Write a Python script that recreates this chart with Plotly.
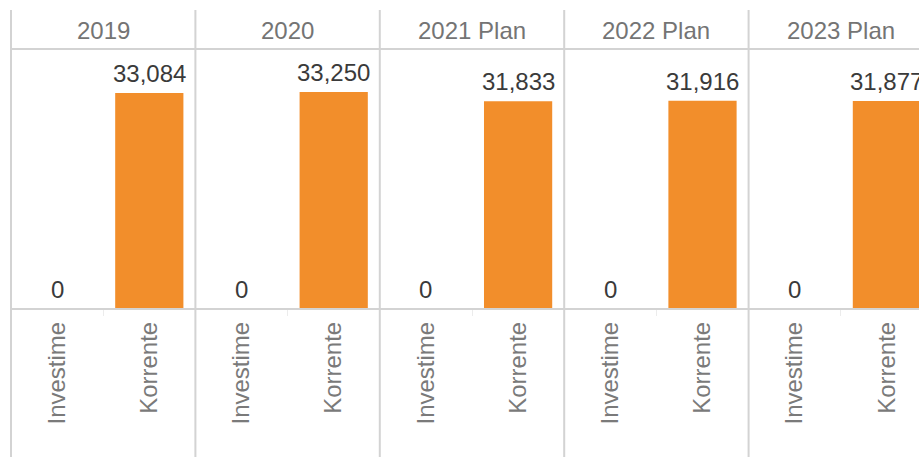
import plotly.graph_objects as go

years = ["2019", "2020", "2021 Plan", "2022 Plan", "2023 Plan"]
categories = ["Investime", "Korrente"]
investime = [0, 0, 0, 0, 0]
korrente = [33084, 33250, 31833, 31916, 31877]

W, H = 919, 457
ml, mr, mt, mb = 11, 0, 49, 148
plot_w = W - ml - mr
plot_h = H - mt - mb
panel_px = 184.4
pw = panel_px / plot_w
FONT = "Liberation Sans, Arial, sans-serif"
FS = 24
LINE = "#d3d3d3"

fig = go.Figure()
layout = {}
for i, yr in enumerate(years):
    ax = "" if i == 0 else str(i + 1)
    x0 = i * pw
    x1 = min((i + 1) * pw, 1.0)
    visible = (x1 - x0) / pw
    vals = [investime[i], korrente[i]]
    fig.add_trace(go.Bar(
        x=categories,
        y=vals,
        xaxis="x" + ax, yaxis="y",
        marker=dict(color="#F28E2B", line=dict(width=0)),
        width=0.74,
        hoverinfo="skip",
        showlegend=False,
    ))
    for c, v in zip(categories, vals):
        fig.add_annotation(
            x=c, y=v, xref="x" + ax, yref="y",
            text=f"{v:,}", showarrow=False,
            xanchor="center", yanchor="bottom", yshift=4,
            font=dict(family=FONT, size=FS, color="#3a3a3a"),
        )
    layout["xaxis" + ax] = dict(
        domain=[x0, x1], anchor="y", type="category",
        range=[-0.5, -0.5 + 2 * visible],
        showgrid=False, zeroline=False, showline=False,
        ticks="outside", tickson="boundaries", ticklen=6,
        tickcolor="#ececec", tickwidth=1,
        tickangle=-90, ticklabelstandoff=7,
        tickfont=dict(family=FONT, size=FS, color="#7a7a7a"),
        fixedrange=True,
    )
    fig.add_annotation(
        x=(i + 0.5) * pw,
        y=1 + 19 / plot_h, xref="paper", yref="paper",
        text=yr, showarrow=False, xanchor="center", yanchor="middle",
        font=dict(family=FONT, size=FS, color="#747474"),
    )

# panel dividers
for i in range(6):
    xp = i * pw
    if xp > 1.0:
        break
    fig.add_shape(type="line", xref="paper", yref="paper",
                  x0=xp, x1=xp, y0=1 + 39 / plot_h, y1=-(mb + 5) / plot_h,
                  line=dict(color=LINE, width=2))
# header bottom line and axis baseline
for yp in (1.0, 0.0):
    fig.add_shape(type="line", xref="paper", yref="paper",
                  x0=0, x1=1, y0=yp, y1=yp,
                  line=dict(color=LINE, width=2))

fig.update_layout(
    **layout,
    yaxis=dict(range=[0, 33084 * plot_h / 216], visible=False, fixedrange=True),
    width=W, height=H,
    margin=dict(l=ml, r=mr, t=mt, b=mb, pad=0),
    paper_bgcolor="white", plot_bgcolor="white",
    bargap=0.26,
)

fig.write_html("out.html", config={"displayModeBar": False},
               post_script="document.body.style.margin='0';")
